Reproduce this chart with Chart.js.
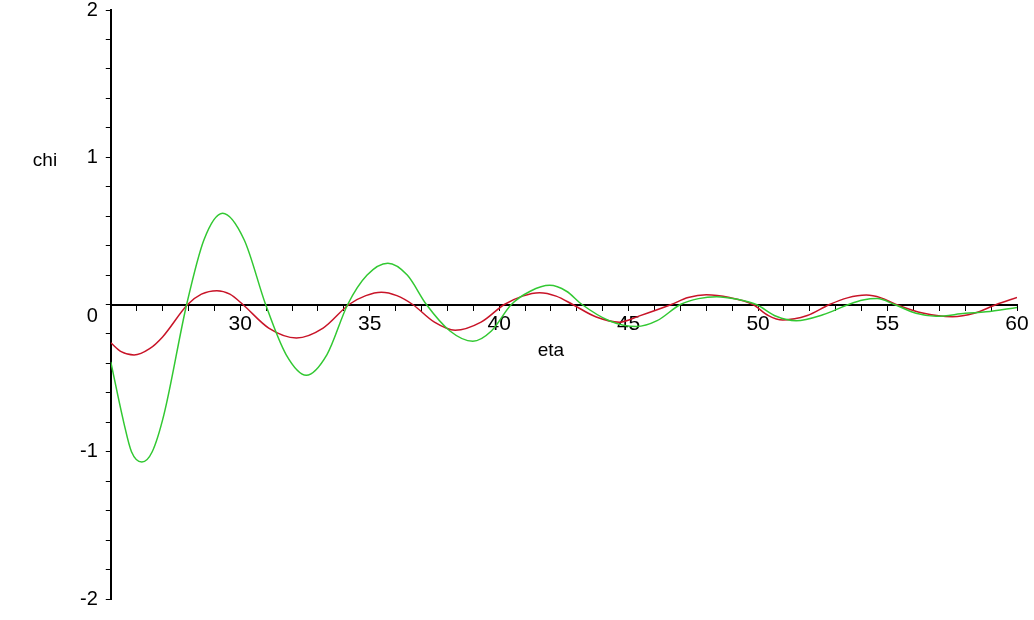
<!doctype html>
<html lang="en">
<head>
<meta charset="utf-8">
<script src="https://cdn.jsdelivr.net/npm/chart.js/dist/chart.umd.min.js"></script>
<title>chi vs eta</title>
<style>
  * { margin: 0; padding: 0; }
  body { background: #fff; }
</style>
</head>
<body>
<canvas id="plot" width="1034" height="620"></canvas>
<script>
// values
var greenEta = [25.0, 25.5, 25.8, 26.2, 26.6, 27.05, 27.93, 28.6, 29.32, 30.15, 30.98, 31.77, 32.55, 33.35, 34.15,
  34.9, 35.7, 36.45, 37.19, 38.1, 38.98, 39.7, 40.47, 41.2, 41.95, 42.6, 43.2, 44.25, 45.3, 46.1, 47.0,
  47.7, 48.4, 49.2, 49.93, 50.7, 51.47, 52.5, 53.5, 54.05, 54.6, 55.27, 56.1, 56.88, 58.0, 58.8, 60.0];
var greenChi = [-0.39, -0.80, -1.0, -1.07, -1.0, -0.75, 0, 0.44, 0.62, 0.44, 0, -0.34, -0.48, -0.34, 0,
  0.2, 0.28, 0.2, 0, -0.18, -0.25, -0.18, 0, 0.09, 0.13, 0.09, 0, -0.11, -0.15, -0.11, 0,
  0.04, 0.053, 0.035, 0, -0.08, -0.11, -0.07, 0, 0.03, 0.04, 0, -0.06, -0.08, -0.06, -0.05, -0.02];

var redEta = [25.0, 25.4, 25.9, 26.5, 27.0, 27.97, 28.5, 29.1, 29.6, 30.1, 31.1, 32.17, 33.2, 34.2,
  34.85, 35.45, 36.05, 36.66, 37.5, 38.3, 39.3, 40.2, 40.9, 41.56, 42.2, 42.84, 43.75, 44.65, 45.42, 46.65,
  47.3, 48.0, 48.9, 49.8, 50.4, 50.95, 51.9, 52.76, 53.45, 54.18, 54.75, 55.33, 56.4, 57.5, 58.35, 59.2, 60.0];
var redChi = [-0.26, -0.32, -0.343, -0.30, -0.22, 0, 0.07, 0.094, 0.07, 0, -0.16, -0.227, -0.16, 0,
  0.06, 0.083, 0.06, 0, -0.12, -0.175, -0.12, 0, 0.057, 0.08, 0.057, 0, -0.085, -0.12, -0.077, 0,
  0.047, 0.066, 0.047, 0, -0.075, -0.105, -0.075, 0, 0.045, 0.064, 0.045, 0, -0.06, -0.083, -0.06, 0, 0.047];

var xLabels = [30, 35, 40, 45, 50, 55, 60];
var yLabels = [-2, -1, 0, 1, 2];

function pts(xs, ys) {
  return xs.map(function (x, i) { return { x: x, y: ys[i] }; });
}

// let the end labels hang over the edge instead of shrinking the plot
function noEdgePadding(scale) {
  scale.paddingTop = 0;
  scale.paddingBottom = 0;
  scale.paddingLeft = 0;
  scale.paddingRight = 0;
}

// free text labels "chi" and "eta", placed like Maple does
var axisNames = {
  id: 'axisNames',
  afterDraw: function (chart) {
    var c = chart.ctx, xs = chart.scales.x, ys = chart.scales.y;
    c.save();
    c.fillStyle = '#000';
    c.font = '19px "Liberation Sans", Arial, sans-serif';
    c.textAlign = 'center';
    c.textBaseline = 'middle';
    c.fillText('chi', 45, ys.getPixelForValue(1) + 4);
    c.fillText('eta', xs.getPixelForValue(42.0), ys.getPixelForValue(0) + 46);
    c.restore();
  }
};

var plot = new Chart(document.getElementById('plot'), {
  type: 'line',
  data: {
    datasets: [{
      label: 'green',
      data: pts(greenEta, greenChi),
      borderColor: 'rgb(50,200,50)',
      borderWidth: 1.5,
      pointRadius: 0,
      cubicInterpolationMode: 'monotone',
      fill: false
    }, {
      label: 'red',
      data: pts(redEta, redChi),
      borderColor: 'rgb(200,20,40)',
      borderWidth: 1.5,
      pointRadius: 0,
      cubicInterpolationMode: 'monotone',
      fill: false
    }]
  },
  options: {
    responsive: false,
    animation: false,
    layout: { padding: { left: 72, right: 17, top: 10, bottom: 21 } },
    plugins: { legend: { display: false }, tooltip: { enabled: false } },
    scales: {
      x: {
        type: 'linear',
        min: 25,
        max: 60,
        position: { y: 0 },
        afterFit: noEdgePadding,
        grid: { drawOnChartArea: false, drawTicks: true, tickLength: 5, tickColor: '#000', tickWidth: 1 },
        border: { color: '#000', width: 2 },
        ticks: {
          stepSize: 1,
          autoSkip: false,
          maxRotation: 0,
          padding: 2,
          color: '#000',
          font: { family: '"Liberation Sans", Arial, sans-serif', size: 21 },
          callback: function (v) { return xLabels.indexOf(v) >= 0 ? String(v) : ''; }
        }
      },
      y: {
        type: 'linear',
        min: -2,
        max: 2,
        position: 'left',
        afterFit: noEdgePadding,
        grid: { drawOnChartArea: false, drawTicks: true, tickLength: 5, tickColor: '#000', tickWidth: 1 },
        border: { color: '#000', width: 2 },
        ticks: {
          stepSize: 0.2,
          autoSkip: false,
          padding: 8,
          color: '#000',
          font: { family: '"Liberation Sans", Arial, sans-serif', size: 20 },
          callback: function (v) {
            var r = Math.round(v);
            if (Math.abs(v - r) > 1e-6 || yLabels.indexOf(r) < 0) return '';
            return r === 0 ? ['', '0'] : String(r);
          }
        }
      }
    }
  },
  plugins: [axisNames]
});
</script>
</body>
</html>
